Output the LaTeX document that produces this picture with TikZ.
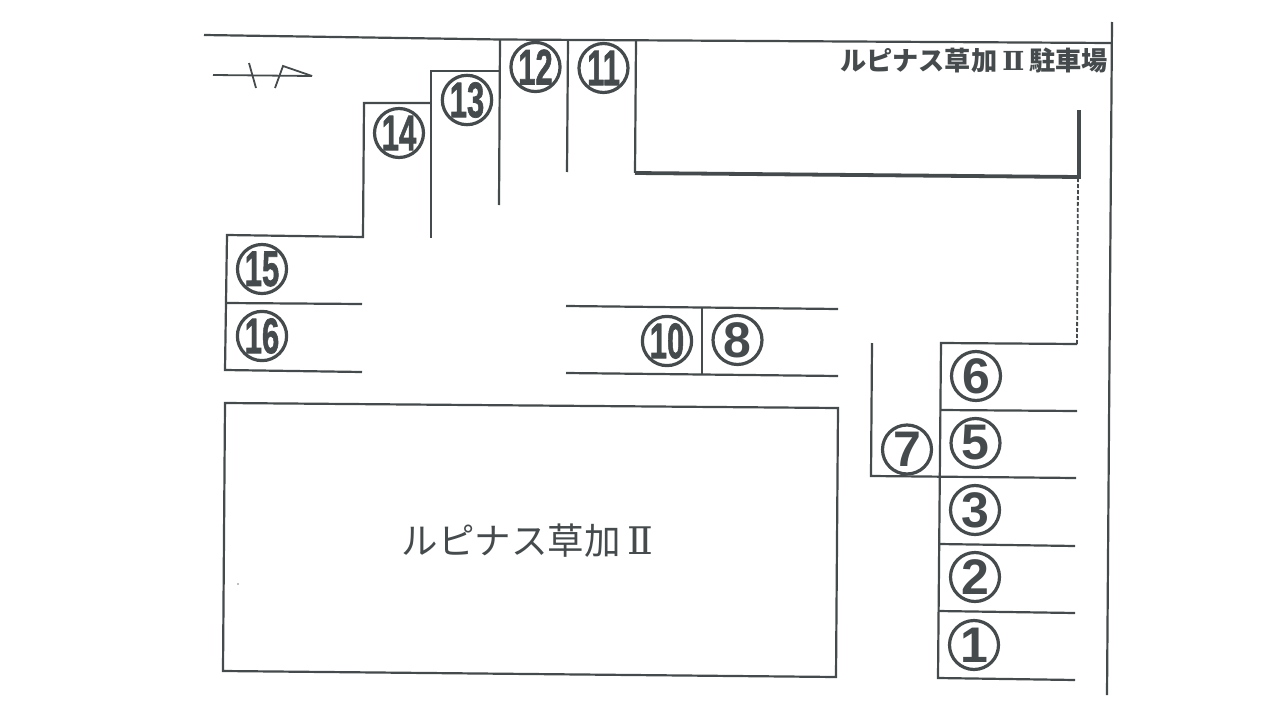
\documentclass[tikz,border=0pt]{standalone}
\usepackage{fontspec}
\setmainfont{Liberation Sans}
\newfontfamily\cjk{Noto Sans CJK JP}
\newfontfamily\srf{DejaVu Serif}
\newfontfamily\numf[UprightFont=* Bold,UprightFeatures={FakeBold=1.5}]{Liberation Sans}
\definecolor{ink}{HTML}{454A4C}
\tikzset{
  wall/.style={draw=ink,line width=2.2pt},
  heavy/.style={draw=ink,line width=3.8pt},
  num/.style={circle,draw=ink,line width=3.2pt,minimum size=49pt,inner sep=0pt,text=ink,font=\bfseries\fontsize{50}{50}\selectfont},
  dnum/.style={circle,draw=ink,line width=3.2pt,minimum size=49pt,inner sep=0pt,text=ink},
  caption/.style={text=ink,inner sep=0pt,anchor=center}
}
\newcommand{\dd}[1]{\numf\fontsize{50}{50}\selectfont\scalebox{.62}[1]{#1}}
\begin{document}
\begin{tikzpicture}[x=1pt,y=-1pt]
\useasboundingbox[fill=white] (0,0) rectangle (1280,720);
% outer lines
\draw[wall] (204,35) -- (500,39.5) -- (1112,43);
\draw[wall] (1112,22) -- (1107,695);
% upper bays
\draw[wall] (500,40) -- (499,205);
\draw[wall] (568,40) -- (567,172);
\draw[wall] (636,41) -- (635,173);
\draw[heavy] (635,173) -- (1079,177) -- (1079,110);
\draw[draw=ink,line width=1.8pt,dash pattern=on 4pt off 2pt] (1078,178) -- (1077,344);
\draw[wall] (499,71) -- (431,71) -- (431,238);
\draw[wall] (431,103) -- (364,103) -- (363,237) -- (227,235) -- (225,370) -- (362,372);
\draw[wall] (226,303) -- (362,304);
% centre bays
\draw[wall] (566,306) -- (838,309);
\draw[wall] (566,373) -- (838,376);
\draw[wall] (702,308) -- (702,374);
% right bays
\draw[wall] (1077,344) -- (941,343) -- (938,678) -- (1075,680);
\draw[wall] (940,410) -- (1077,411);
\draw[wall] (872,343) -- (871,476) -- (1076,478);
\draw[wall] (939,544) -- (1075,546);
\draw[wall] (938,611) -- (1075,613);
% building
\draw[wall] (225,403) -- (838,408) -- (836,677) -- (223,671) -- cycle;
% north mark
\draw[draw=ink,line width=1.8pt] (213,75) -- (312,76);
\draw[draw=ink,line width=1.8pt] (249,63) -- (256,88);
\draw[draw=ink,line width=1.8pt] (275,88) -- (283,66) -- (312,76);
\fill[ink!70] (238,584) circle (.8pt);
% numbers
\node[dnum] (n12) at (535.5,67) {\dd{12}};
\node[dnum] (n11) at (603.5,68) {\dd{11}};
\node[dnum] (n13) at (467,100) {\dd{13}};
\node[dnum] (n14) at (399,133) {\dd{14}};
\node[dnum] (n15) at (262,269) {\dd{15}};
\node[dnum] (n16) at (262,336) {\dd{16}};
\node[dnum] (n10) at (667,341) {\dd{10}};
\node[num] (n8) at (737.5,340) {8};
\node[num] (n6) at (976,376) {6};
\node[num] (n5) at (975.5,443) {5};
\node[num] (n3) at (975,510) {3};
\node[num] (n2) at (975,577) {2};
\node[num] (n1) at (974,645) {1};
\node[num] (n7) at (907,449.5) {7};
% captions
\node[caption] (title) at (974,60) {\cjk\bfseries\fontsize{26.2}{26.2}\selectfont ルピナス草加\hspace{5pt}{\srf\bfseries Ⅱ}\hspace{5pt}駐車場};
\node[caption] (bldg) at (527.5,541) {\cjk\fontsize{36.5}{36.5}\selectfont ルピナス草加\hspace{7pt}{\srf\fontsize{38}{38}\selectfont Ⅱ}};
\end{tikzpicture}
\end{document}
